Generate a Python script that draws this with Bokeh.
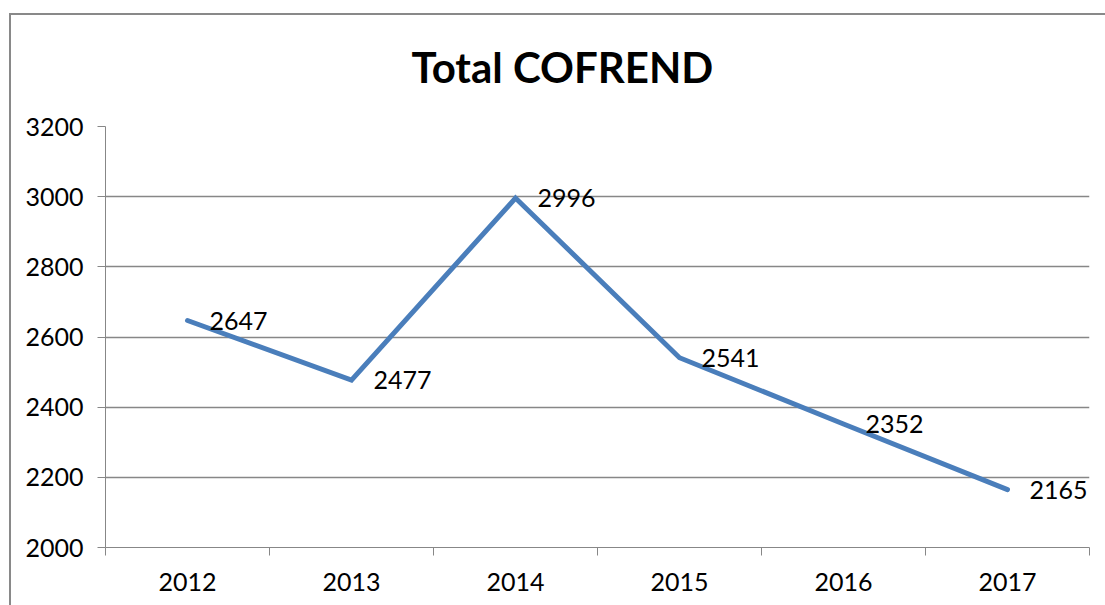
from bokeh.plotting import figure
from bokeh.models import Range1d, FixedTicker, ColumnDataSource, Title
from bokeh.embed import file_html
from bokeh.resources import INLINE
from bokeh.core.properties import value

title_text = "Total COFREND"
years = ["2012", "2013", "2014", "2015", "2016", "2017"]
totals = [2647, 2477, 2996, 2541, 2352, 2165]
y_ticks = [2000, 2200, 2400, 2600, 2800, 3000, 3200]

FONT = "Lato"
GRID = "#878787"

xs = [i + 0.5 for i in range(len(years))]
src = ColumnDataSource(dict(x=xs, y=totals, label=[str(v) for v in totals]))

p = figure(width=1105, height=605, output_backend="svg", toolbar_location=None,
           x_range=Range1d(0, len(years)), y_range=Range1d(y_ticks[0], y_ticks[-1]),
           min_border_left=105, min_border_right=16, min_border_top=126, min_border_bottom=58)
p.outline_line_color = None
p.background_fill_color = "white"
p.border_fill_color = None
p.styles = {
    "background": "linear-gradient(#898989, #898989) 9px 13px / 2px 100% no-repeat, "
                  "linear-gradient(#898989, #898989) 9px 13px / 100% 2px no-repeat, #ffffff"
}

p.line("x", "y", source=src, line_color="#4A7EBB", line_width=5,
       line_join="miter", line_cap="round")
p.text("x", "y", text="label", source=src, x_offset=22, text_align="left",
       text_baseline="middle", text_font=value(FONT), text_font_size="25px",
       text_color="black")

# x axis: labels at category centres, ticks at category boundaries
xa = p.xaxis[0]
xa.ticker = FixedTicker(ticks=xs, minor_ticks=list(range(len(years) + 1)))
xa.major_label_overrides = {x: y for x, y in zip(xs, years)}
xa.major_tick_out = 0
xa.major_tick_in = 0
xa.minor_tick_out = 8
xa.minor_tick_in = 0
xa.minor_tick_line_color = GRID
xa.axis_line_color = GRID
xa.major_label_standoff = 17
xa.major_label_text_font = FONT
xa.major_label_text_font_size = "25px"
xa.major_label_text_color = "black"

ya = p.yaxis[0]
ya.ticker = FixedTicker(ticks=y_ticks)
ya.major_tick_out = 8
ya.major_tick_in = 0
ya.minor_tick_out = 0
ya.minor_tick_in = 0
ya.major_tick_line_color = GRID
ya.axis_line_color = GRID
ya.major_label_standoff = 14
ya.major_label_text_font = FONT
ya.major_label_text_font_size = "25px"
ya.major_label_text_color = "black"

p.xgrid.visible = False
p.ygrid.ticker = FixedTicker(ticks=y_ticks)
p.ygrid.grid_line_color = GRID
p.ygrid.grid_line_width = 1.5

title = Title(text=title_text, align="left", offset=306, standoff=70,
              text_font=FONT, text_font_style="bold", text_font_size="42px",
              text_color="black")
p.add_layout(title, "above")

open("out.html", "w").write(file_html(p, INLINE))
